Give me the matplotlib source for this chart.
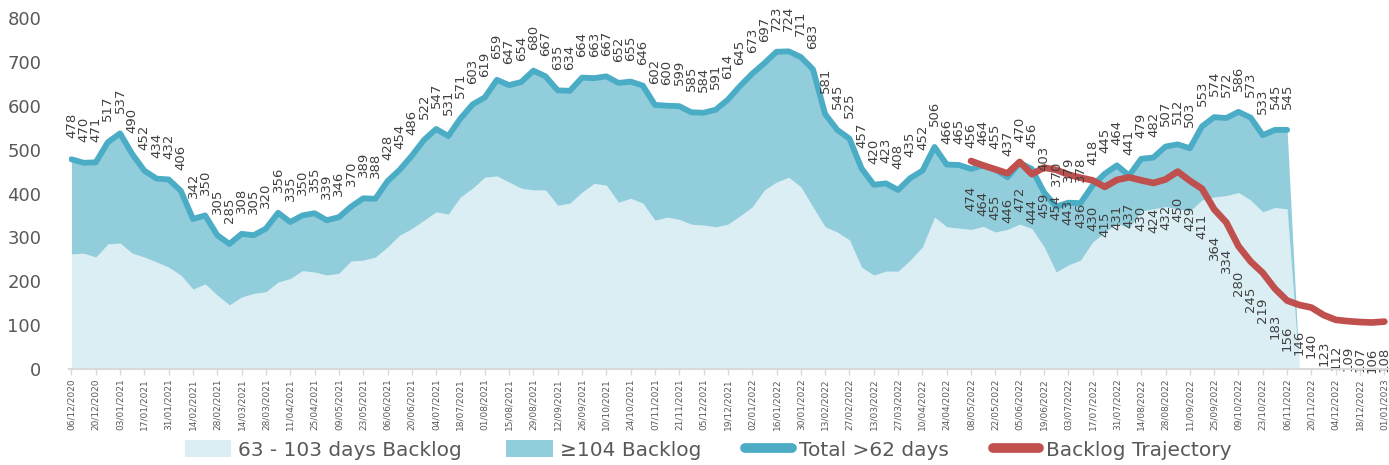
"""Backlog >62 days: stacked areas, total line and trajectory, with rotated data labels."""

import numpy as np
import pandas as pd
import matplotlib
matplotlib.use("Agg")
import matplotlib.pyplot as plt
from matplotlib import font_manager
from matplotlib.lines import Line2D
from matplotlib.patches import Patch

# --- Data (weekly) ---
weeks = pd.date_range("2020-12-06", "2023-01-01", freq="7D")

total_62 = [
    478, 470, 471, 517, 537, 490, 452, 434, 432, 406,
    342, 350, 305, 285, 308, 305, 320, 356, 335, 350,
    355, 339, 346, 370, 389, 388, 428, 454, 486, 522,
    547, 531, 571, 603, 619, 659, 647, 654, 680, 667,
    635, 634, 664, 663, 667, 652, 655, 646, 602, 600,
    599, 585, 584, 591, 614, 645, 673, 697, 723, 724,
    711, 683, 581, 545, 525, 457, 420, 423, 408, 435,
    452, 506, 466, 465, 456, 464, 455, 437, 470, 456,
    403, 370, 379, 378, 418, 445, 464, 441, 479, 482,
    507, 512, 503, 553, 574, 572, 586, 573, 533, 545,
    545,
]

days_63_103 = [
    262, 264, 255, 285, 287, 264, 255, 244, 232, 214,
    182, 194, 168, 146, 164, 172, 176, 198, 206, 224,
    221, 214, 218, 246, 248, 255, 278, 305, 320, 339,
    358, 353, 392, 412, 437, 440, 426, 412, 408, 408,
    373, 378, 403, 423, 419, 380, 389, 378, 339, 346,
    341, 330, 328, 324, 330, 349, 369, 408, 426, 437,
    415, 369, 324, 312, 294, 232, 214, 223, 223, 248,
    278, 346, 324, 321, 318, 325, 312, 318, 330, 320,
    279, 221, 237, 248, 289, 312, 332, 321, 360, 365,
    370, 365, 360, 385, 392, 395, 402, 385, 358, 368,
    365,
]

trajectory_start = "2022-05-08"
trajectory = [
    474, 464, 455, 446, 472, 444, 459, 454, 443, 436,
    430, 415, 431, 437, 430, 424, 432, 450, 429, 411,
    364, 334, 280, 245, 219, 183, 156, 146, 140, 123,
    112, 109, 107, 106, 108,
]

series_names = ["63 - 103 days Backlog", "\u2265104 Backlog",
                "Total >62 days", "Backlog Trajectory"]

LIGHT = "#DAEEF3"
MID = "#92CDDC"
TEAL = "#4BACC6"
RED = "#C0504D"
TXT = "#404040"
AXIS = "#595959"

plt.rcParams["font.family"] = ["DejaVu Sans"]
names = {f.name for f in font_manager.fontManager.ttflist}
if "Liberation Sans Narrow" in names:
    LEG_FONT, LEG_SIZE = ["Liberation Sans Narrow", "DejaVu Sans"], 19
else:
    LEG_FONT, LEG_SIZE = ["DejaVu Sans"], 14.5

W, H = 1389, 465
fig = plt.figure(figsize=(W / 100, H / 100), dpi=100)
fig.patch.set_facecolor("white")
ax = fig.add_axes([69 / W, 1 - 369 / H, 1 - 69 / W - 1 / W, (369 - 18) / H])

x = np.arange(len(weeks))
n = len(total_62)
# Excel area chart: empty weeks after the last value count as zero
light = np.zeros(len(weeks))
light[:n] = days_63_103
top = np.zeros(len(weeks))
top[:n] = total_62

ax.fill_between(x, 0, light, color=LIGHT, lw=0, zorder=1)
ax.fill_between(x, light, top, color=MID, lw=0, zorder=1)
ax.plot(x[:n], total_62, color=TEAL, lw=4.2, solid_joinstyle="round",
        solid_capstyle="round", zorder=3)

t0 = weeks.get_loc(pd.Timestamp(trajectory_start))
xt = x[t0:t0 + len(trajectory)]
ax.plot(xt, trajectory, color=RED, lw=4.8, solid_joinstyle="round",
        solid_capstyle="round", zorder=4)

# data labels
for xi, v in zip(x[:n], total_62):
    ax.annotate(str(v), (xi, v), xytext=(0, 15), textcoords="offset points",
                rotation=90, ha="center", va="bottom", fontsize=9.5, color=TXT,
                zorder=5)
for xi, v in zip(xt, trajectory):
    ax.annotate(str(v), (xi, v), xytext=(0, -18), textcoords="offset points",
                rotation=90, ha="center", va="top", fontsize=9.5, color=TXT,
                zorder=5)

# axes styling
ax.set_xlim(-0.2, len(weeks) - 0.7)
ax.set_ylim(0, 800)
ax.set_yticks(range(0, 801, 100))
ax.tick_params(axis="y", length=0, labelsize=13, labelcolor=AXIS, pad=20)
ax.set_xticks(x[::2])
ax.set_xticklabels(weeks[::2].strftime("%d/%m/%Y"), rotation=90,
                   fontsize=6.5, color=AXIS)
ax.tick_params(axis="x", length=4, color="#D9D9D9", width=1, pad=3)
for side in ["top", "right", "left"]:
    ax.spines[side].set_visible(False)
ax.spines["bottom"].set_color("#D9D9D9")
ax.spines["bottom"].set_linewidth(1.5)
ax.spines["bottom"].set_zorder(6)

handles = [
    Patch(facecolor=LIGHT, edgecolor="none"),
    Patch(facecolor=MID, edgecolor="none"),
    Line2D([], [], color=TEAL, lw=7, solid_capstyle="round"),
    Line2D([], [], color=RED, lw=7, solid_capstyle="round"),
]
fig.legend(handles, series_names, loc="center", bbox_to_anchor=(0.51, 1 - 450 / H),
           ncol=4, frameon=False, prop={"family": LEG_FONT, "size": LEG_SIZE},
           labelcolor=AXIS, handlelength=2.3, handleheight=0.9,
           handletextpad=0.35, columnspacing=2.2, borderaxespad=0)

fig.savefig("out.png", dpi=100, facecolor="white")
